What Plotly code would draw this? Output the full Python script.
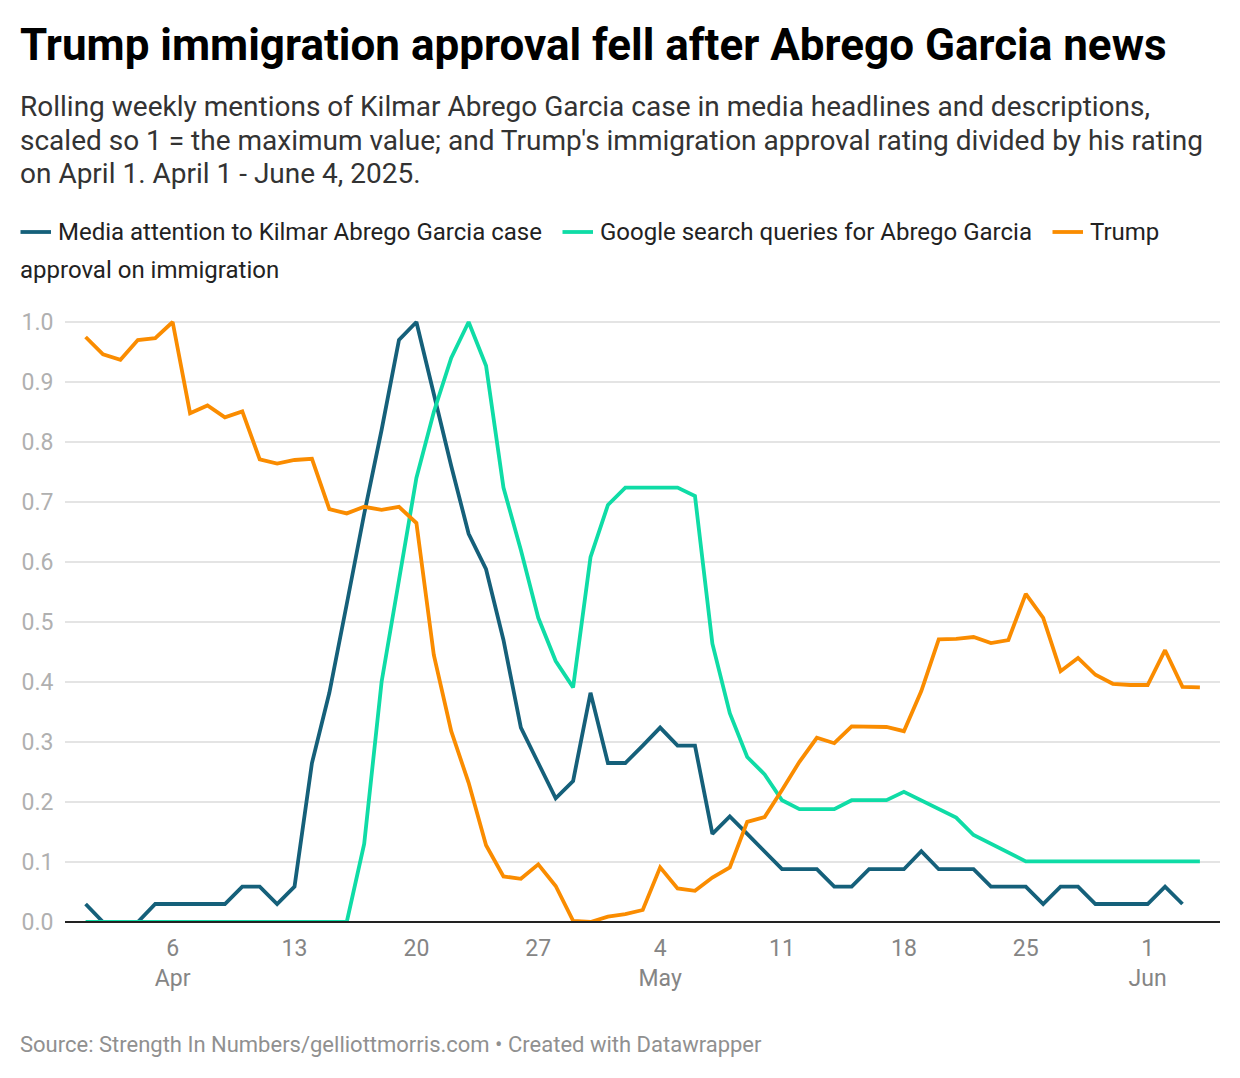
import pandas as pd
import plotly.graph_objects as go

dates = pd.date_range("2025-04-01", "2025-06-04").strftime("%Y-%m-%d").tolist()
media = [.03,0,0,0,.03,.03,.03,.03,.03,.059,.059,.03,.059,.265,.382,.53,.68,.82,.97,1.0,.88,.76,.647,.588,.47,.324,.265,.206,.235,.382,
         .265,.265,.294,.324,.294,.294,.147,.176,.147,.118,.088,.088,.088,.059,.059,.088,.088,.088,.118,.088,.088,.088,.059,.059,.059,.03,.059,.059,.03,.03,.03,
         .03,.059,.03]
google = [0]*16 + [.13,.40,.57,.74,.85,.94,1.0,.927,.724,.62,.507,.435,.391,.608,
          .695,.724,.724,.724,.724,.71,.464,.348,.275,.246,.203,.188,.188,.188,.203,.203,.203,.217,.203,.188,.174,.145,.13,.116,.101,.101,.101,.101,.101,.101,.101,
          .101,.101,.101,.101]
trump = [.975,.946,.937,.97,.973,1.0,.848,.861,.841,.851,.771,.764,.77,.772,.688,.681,.692,.687,.692,.665,.445,.318,.232,.128,.076,.072,.096,.06,.002,0,
         .009,.013,.02,.091,.056,.052,.074,.091,.167,.175,.22,.267,.307,.298,.326,.325,.325,.318,.385,.471,.472,.475,.465,.47,.547,.507,.418,.44,.412,.397,.395,
         .395,.453,.392,.391]
names = ["Media attention to Kilmar Abrego Garcia case", "Google search queries for Abrego Garcia", "Trump approval on immigration"]
colors = ["#15607a", "#0fdca6", "#fa8c00"]
y_ticks = [0,.1,.2,.3,.4,.5,.6,.7,.8,.9,1.0]
x_ticks = ["2025-04-06","2025-04-13","2025-04-20","2025-04-27","2025-05-04","2025-05-11","2025-05-18","2025-05-25","2025-06-01"]
x_labels = ["6<br>Apr","13","20","27","4<br>May","11","18","25","1<br>Jun"]
title = "Trump immigration approval fell after Abrego Garcia news"
subtitle_lines = ["Rolling weekly mentions of Kilmar Abrego Garcia case in media headlines and descriptions,",
                  "scaled so 1 = the maximum value; and Trump's immigration approval rating divided by his rating",
                  "on April 1. April 1 - June 4, 2025."]
source = "Source: Strength In Numbers/gelliottmorris.com • Created with Datawrapper"

W, H = 1240, 1078
OFF = 8                     # page margin around the figure
PW, PH = W - 2*OFF, H - 2*OFF
L, R, T, B = 65, 1220, 318, 922   # top sits 4 px above the 1.0 line so its gridline is drawn
F = "Roboto"

def px(x): return (x - OFF) / PW
def py(y): return 1 - (y - OFF) / PH

fig = go.Figure()
for name, vals, col in zip(names, [media, google, trump], colors):
    fig.add_trace(go.Scatter(x=dates[:len(vals)], y=vals, mode="lines", name=name, cliponaxis=False,
                             line=dict(color=col, width=3.8), hoverinfo="x+y"))

def txt(x, y, s, size, color, bold=False):
    fig.add_annotation(xref="paper", yref="paper", x=px(x), y=py(y), text=s, showarrow=False,
                       xanchor="left", yanchor="middle", align="left", borderpad=0,
                       font=dict(family=F, size=size, color=color, weight=700 if bold else 400))

txt(18.7, 45, title, 44, "#000000", True)
for yy, line in zip([107, 141, 174], subtitle_lines):
    txt(18.7, yy, line, 28, "#333333")
txt(57.2, 232, names[0], 24, "#222222")
txt(598.5, 232, names[1], 24, "#222222")
txt(1088.5, 232, "Trump", 24, "#222222")
txt(18.7, 270, "approval on immigration", 24, "#222222")
txt(18.7, 1044, source, 22, "#909090")
for x0, x1, col in zip([20.5, 562.5, 1052.5], [51, 593, 1083], colors):
    fig.add_shape(type="line", xref="paper", yref="paper", x0=px(x0), x1=px(x1), y0=py(232), y1=py(232),
                  line=dict(color=col, width=3.8))

px_per_day = (1148 - 173) / 56
x0_date = pd.Timestamp("2025-04-01") + pd.Timedelta(days=(L - 85.6) / px_per_day)
x1_date = pd.Timestamp("2025-04-01") + pd.Timedelta(days=(R - 85.6) / px_per_day)
y_top = (B - T) / 600
fig.update_layout(
    template="none", width=PW, height=PH, autosize=False, margin=dict(l=0, r=0, t=0, b=0),
    paper_bgcolor="white", plot_bgcolor="white", showlegend=False, font=dict(family=F),
    xaxis=dict(domain=[px(L), px(R)], range=[x0_date, x1_date], type="date", automargin=False,
               tickmode="array", tickvals=x_ticks, ticktext=x_labels, showgrid=False,
               ticks="outside", ticklen=5, tickcolor="rgba(0,0,0,0)", showline=False, zeroline=False, tickangle=0,
               tickfont=dict(family=F, size=23, color="#858585")),
    yaxis=dict(domain=[py(B), py(T)], range=[0, y_top], automargin=False, tickmode="array", tickvals=y_ticks,
               ticktext=[f"{v:.1f}" for v in y_ticks], showgrid=True, gridcolor="#e4e4e4", gridwidth=2,
               zeroline=False, showline=False, ticks="outside", ticklen=6, tickcolor="rgba(0,0,0,0)",
               tickfont=dict(family=F, size=23, color="#b0b0b0")),
)
fig.add_shape(type="line", xref="paper", yref="paper", x0=px(L), x1=px(R), y0=py(B), y1=py(B),
              line=dict(color="#222222", width=2))
fig.write_html("out.html")
